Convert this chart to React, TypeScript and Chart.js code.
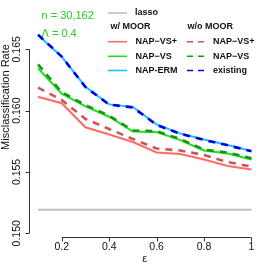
import React, { useEffect, useRef } from "react";
import { Chart, registerables } from "chart.js";

Chart.register(...registerables);

const EPS = [0.1, 0.2, 0.3, 0.4, 0.5, 0.6, 0.7, 0.8, 0.9, 1.0];
const LASSO = [0.15192, 0.15192, 0.15192, 0.15192, 0.15192, 0.15192, 0.15192, 0.15192, 0.15192, 0.15192];
const NAP_VSP = [0.16113, 0.1606, 0.15864, 0.15805, 0.15744, 0.15659, 0.15646, 0.15601, 0.15549, 0.1552];
const NAP_VSP_NO = [0.16187, 0.16087, 0.15932, 0.1585, 0.15769, 0.15691, 0.15675, 0.15638, 0.15581, 0.15544];
const NAP_VS = [0.16345, 0.16139, 0.16035, 0.1595, 0.1583, 0.15826, 0.1576, 0.15675, 0.1565, 0.15601];
const NAP_VS_NO = [0.16377, 0.1615, 0.16045, 0.15958, 0.15838, 0.15832, 0.15768, 0.15682, 0.15658, 0.15612];
const NAP_ERM = [0.16616, 0.16439, 0.16195, 0.16051, 0.16029, 0.15887, 0.15813, 0.15764, 0.1572, 0.15671];
const EXISTING = [0.16618, 0.16441, 0.16192, 0.16049, 0.16026, 0.15884, 0.15811, 0.15761, 0.15717, 0.15668];

const X_TICKS = [0.2, 0.4, 0.6, 0.8, 1.0];
const X_TICK_LABELS = ["0.2", "0.4", "0.6", "0.8", "1"];
const Y_TICKS = [0.15, 0.155, 0.16, 0.165];
const Y_TICK_LABELS = ["0.150", "0.155", "0.160", "0.165"];
const X_TITLE = "ε";
const Y_TITLE = "Misclassification Rate";
const NOTE_LINES = ["n = 30,162", "Λ = 0.4"];
const LEGEND_TOP = "lasso";
const LEGEND_HEADERS = ["w/ MOOR", "w/o MOOR"];
const LEGEND_LEFT = ["NAP−VS+", "NAP−VS", "NAP-ERM"];
const LEGEND_RIGHT = ["NAP−VS+", "NAP−VS", "existing"];

const C_LASSO = "#BEBEBE";
const C_RED = "#FF6A6A";
const C_RED_D = "#CD5555";
const C_GREEN = "#22DD22";
const C_GREEN_D = "#119A11";
const C_CYAN = "#1EBFFF";
const C_BLUE = "#0000F0";
const C_NOTE = "#22CC22";

const FONT = "'Liberation Sans', Arial, Helvetica, sans-serif";

function pts(ys: number[]) {
  return ys.map((y, i) => ({ x: EPS[i], y }));
}

const rAxes = {
  id: "rAxes",
  afterDraw(chart: any) {
    const ctx = chart.ctx as CanvasRenderingContext2D;
    const xs = chart.scales.x;
    const ys = chart.scales.y;
    const area = chart.chartArea;
    ctx.save();
    ctx.strokeStyle = "#333";
    ctx.fillStyle = "#111";
    ctx.lineWidth = 1;
    // x axis
    const xb = Math.round(area.bottom) + 0.5;
    ctx.beginPath();
    ctx.moveTo(xs.getPixelForValue(X_TICKS[0]), xb);
    ctx.lineTo(xs.getPixelForValue(X_TICKS[X_TICKS.length - 1]), xb);
    X_TICKS.forEach((t) => {
      const px = Math.round(xs.getPixelForValue(t)) + 0.5;
      ctx.moveTo(px, xb);
      ctx.lineTo(px, xb + 4);
    });
    ctx.stroke();
    ctx.font = `10.5px ${FONT}`;
    ctx.textAlign = "center";
    ctx.textBaseline = "middle";
    X_TICKS.forEach((t, i) => {
      ctx.fillText(X_TICK_LABELS[i], xs.getPixelForValue(t), xb + 10);
    });
    // y axis
    const yl = Math.round(area.left) - 0.5;
    ctx.beginPath();
    ctx.moveTo(yl, ys.getPixelForValue(Y_TICKS[0]));
    ctx.lineTo(yl, ys.getPixelForValue(Y_TICKS[Y_TICKS.length - 1]));
    Y_TICKS.forEach((t) => {
      const py = Math.round(ys.getPixelForValue(t)) + 0.5;
      ctx.moveTo(yl, py);
      ctx.lineTo(yl - 4, py);
    });
    ctx.stroke();
    Y_TICKS.forEach((t, i) => {
      ctx.save();
      ctx.translate(yl - 12, ys.getPixelForValue(t));
      ctx.rotate(-Math.PI / 2);
      ctx.fillText(Y_TICK_LABELS[i], 0, 0);
      ctx.restore();
    });
    // titles
    ctx.font = `11px ${FONT}`;
    ctx.fillText(X_TITLE, (area.left + area.right) / 2, 259);
    ctx.save();
    ctx.translate(6, 97);
    ctx.rotate(-Math.PI / 2);
    ctx.fillText(Y_TITLE, 0, 0);
    ctx.restore();
    // notes
    ctx.fillStyle = C_NOTE;
    ctx.textAlign = "left";
    ctx.font = `11px ${FONT}`;
    ctx.fillText(NOTE_LINES[0], 41.5, 16);
    ctx.fillText(NOTE_LINES[1], 41.5, 34);
    // legend
    const seg = (x1: number, x2: number, y: number, color: string, dash: number[]) => {
      ctx.save();
      ctx.strokeStyle = color;
      ctx.lineWidth = 1.6;
      ctx.setLineDash(dash);
      ctx.beginPath();
      ctx.moveTo(x1, y);
      ctx.lineTo(x2, y);
      ctx.stroke();
      ctx.restore();
    };
    ctx.fillStyle = "#111";
    ctx.font = `bold 9px ${FONT}`;
    seg(108, 127, 13, C_LASSO, []);
    ctx.fillText(LEGEND_TOP, 135, 13);
    ctx.fillText(LEGEND_HEADERS[0], 110.5, 27);
    ctx.fillText(LEGEND_HEADERS[1], 187.5, 27);
    const rows = [41.7, 56.3, 70.5];
    const lc = [C_RED, C_GREEN, C_CYAN];
    const rc = [C_RED_D, C_GREEN_D, C_BLUE];
    rows.forEach((y, i) => {
      seg(108, 127, y, lc[i], []);
      ctx.fillText(LEGEND_LEFT[i], 135.5, y);
      seg(187, 204, y, rc[i], [6, 5]);
      ctx.fillText(LEGEND_RIGHT[i], 213, y);
    });
    ctx.restore();
  },
};

export default function App() {
  const ref = useRef<HTMLCanvasElement | null>(null);
  useEffect(() => {
    if (!ref.current) return;
    const solid = (data: number[], color: string, order: number) => ({
      data: pts(data),
      borderColor: color,
      borderWidth: 2,
      pointRadius: 0,
      fill: false,
      tension: 0,
      order,
    });
    const dashed = (data: number[], color: string, order: number) => ({
      data: pts(data),
      borderColor: color,
      borderWidth: 2.6,
      borderDash: [7, 6],
      pointRadius: 0,
      fill: false,
      tension: 0,
      order,
    });
    const chart = new Chart(ref.current, {
      type: "line",
      data: {
        datasets: [
          solid(LASSO, C_LASSO, 10),
          solid(NAP_VSP, C_RED, 9),
          solid(NAP_VS, C_GREEN, 8),
          solid(NAP_ERM, C_CYAN, 7),
          dashed(NAP_VSP_NO, C_RED_D, 3),
          dashed(NAP_VS_NO, C_GREEN_D, 2),
          dashed(EXISTING, C_BLUE, 1),
        ] as any,
      },
      options: {
        animation: false,
        responsive: false,
        devicePixelRatio: 1,
        layout: { padding: { left: 29.5, right: 6, top: 10, bottom: 30 } },
        plugins: { legend: { display: false }, tooltip: { enabled: false } },
        scales: {
          x: { type: "linear", min: 0.064, max: 1.036, display: false },
          y: { type: "linear", min: 0.149698, max: 0.168203, display: false },
        },
      },
      plugins: [rAxes],
    });
    return () => chart.destroy();
  }, []);
  return (
    <div style={{ position: "absolute", left: 0, top: 0, width: 266, height: 267, background: "#fff" }}>
      <canvas ref={ref} width={266} height={267} />
    </div>
  );
}
